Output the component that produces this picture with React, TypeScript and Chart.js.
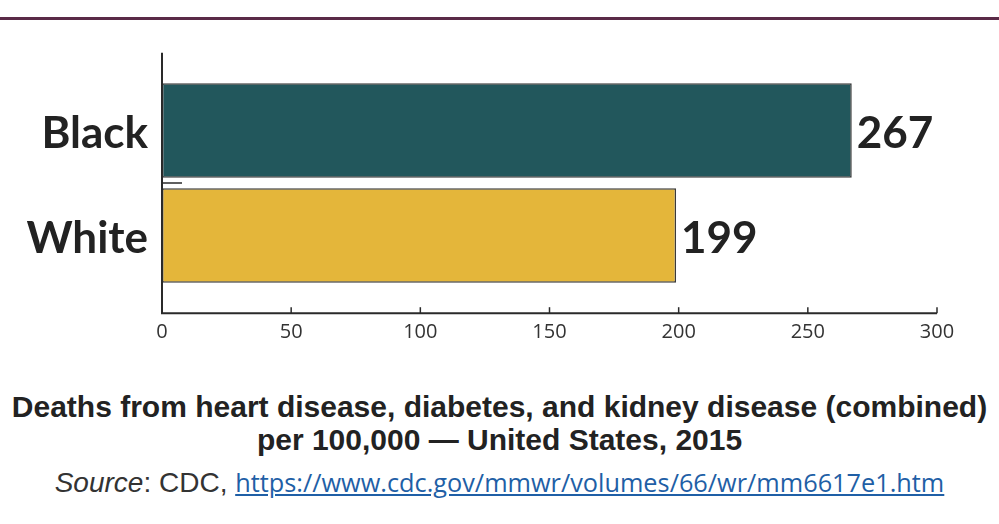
import React, { useEffect, useRef } from "react";
import { Chart, registerables } from "chart.js";

Chart.register(...registerables);

const categories = ["Black", "White"];
const deathRates = [267, 199];
const barColors = ["#22575c", "#e4b63a"];
const xTicks = [0, 50, 100, 150, 200, 250, 300];

const BIG_FONT = 'Lato, "Liberation Sans", Arial, sans-serif';
const TICK_FONT = '"Open Sans", "Noto Sans", sans-serif';

const axisPlugin = {
  id: "customAxes",
  afterDatasetsDraw(chart: any) {
    const { ctx, chartArea, scales } = chart;
    const x = scales.x;
    const y = scales.y;
    const step = y.getPixelForValue(1) - y.getPixelForValue(0);
    const pad = step * 0.24;
    const axisY = chartArea.bottom + pad;
    ctx.save();
    ctx.strokeStyle = "#2a2a2a";
    ctx.lineWidth = 2;
    ctx.beginPath();
    ctx.moveTo(chartArea.left, chartArea.top - pad);
    ctx.lineTo(chartArea.left, axisY);
    ctx.lineTo(chartArea.right, axisY);
    ctx.stroke();
    ctx.lineWidth = 1.5;
    xTicks.forEach((t) => {
      const px = x.getPixelForValue(t);
      ctx.beginPath();
      ctx.moveTo(px, axisY);
      ctx.lineTo(px, axisY - 6);
      ctx.stroke();
    });
    // category separator tick
    const sepY = (y.getPixelForValue(0) + y.getPixelForValue(1)) / 2;
    ctx.beginPath();
    ctx.moveTo(chartArea.left, sepY);
    ctx.lineTo(chartArea.left + 20, sepY);
    ctx.stroke();
    // value labels
    const meta = chart.getDatasetMeta(0);
    ctx.fillStyle = "#222";
    ctx.font = `bold 44px ${BIG_FONT}`;
    ctx.textAlign = "left";
    ctx.textBaseline = "middle";
    meta.data.forEach((bar: any, i: number) => {
      ctx.fillText(String(deathRates[i]), bar.x + 5, bar.y + 3);
    });
    ctx.restore();
  },
};

function BarChart() {
  const ref = useRef<HTMLCanvasElement>(null);
  useEffect(() => {
    if (!ref.current) return;
    const chart = new Chart(ref.current, {
      type: "bar",
      data: {
        labels: categories,
        datasets: [
          {
            data: deathRates,
            backgroundColor: barColors,
            borderColor: "#3a3a3a",
            borderWidth: 1.5,
            borderSkipped: false,
            categoryPercentage: 1,
            barPercentage: 0.9,
          },
        ],
      },
      options: {
        indexAxis: "y",
        animation: false,
        responsive: false,
        layout: { padding: { top: 78, right: 62, left: 0, bottom: 0 } },
        plugins: { legend: { display: false }, tooltip: { enabled: false }, title: { display: false } },
        scales: {
          x: {
            type: "linear",
            min: 0,
            max: 300,
            grid: { display: false, drawTicks: false },
            border: { display: false },
            afterBuildTicks: (axis: any) => {
              axis.ticks = xTicks.map((v) => ({ value: v }));
            },
            afterFit: (s: any) => {
              s.height = 82;
            },
            ticks: {
              padding: 32,
              color: "#333",
              font: { family: TICK_FONT, size: 20 },
              maxRotation: 0,
            },
          },
          y: {
            grid: { display: false, drawTicks: false },
            border: { display: false },
            afterFit: (s: any) => {
              s.width = 162;
            },
            ticks: {
              padding: 14,
              labelOffset: 3,
              color: "#222",
              font: { family: BIG_FONT, size: 44, weight: "bold" },
            },
          },
        },
      },
      plugins: [axisPlugin],
    });
    return () => chart.destroy();
  }, []);
  return <canvas ref={ref} width={999} height={370} style={{ width: 999, height: 370, display: "block" }} />;
}

export default function App() {
  return (
    <div
      style={{
        position: "absolute",
        left: 0,
        top: 0,
        width: 999,
        height: 524,
        background: "#fff",
        overflow: "hidden",
      }}
    >
      <div style={{ position: "absolute", left: 0, top: 17, width: 999, height: 3, background: "#5a2a47" }} />
      <div style={{ position: "absolute", left: 0, top: 0 }}>
        <BarChart />
      </div>
      <div
        style={{
          position: "absolute",
          left: 0,
          top: 390,
          width: 999,
          textAlign: "center",
          fontFamily: '"Liberation Sans", Arial, sans-serif',
          fontWeight: "bold",
          fontSize: 30,
          lineHeight: "33px",
          color: "#222",
        }}
      >
        <div>Deaths from heart disease, diabetes, and kidney disease (combined)</div>
        <div>per 100,000 — United States, 2015</div>
      </div>
      <div
        style={{
          position: "absolute",
          left: 0,
          top: 468,
          width: 999,
          textAlign: "center",
          fontFamily: '"Liberation Sans", Arial, sans-serif',
          fontSize: 28,
          lineHeight: "28px",
          color: "#333",
          whiteSpace: "nowrap",
        }}
      >
        <i>Source</i>: CDC,{" "}
        <a
          href="https://www.cdc.gov/mmwr/volumes/66/wr/mm6617e1.htm"
          style={{ fontFamily: '"Open Sans", sans-serif', fontSize: 25.3, color: "#1f5fa6", textDecoration: "underline" }}
        >
          https://www.cdc.gov/mmwr/volumes/66/wr/mm6617e1.htm
        </a>
      </div>
    </div>
  );
}
